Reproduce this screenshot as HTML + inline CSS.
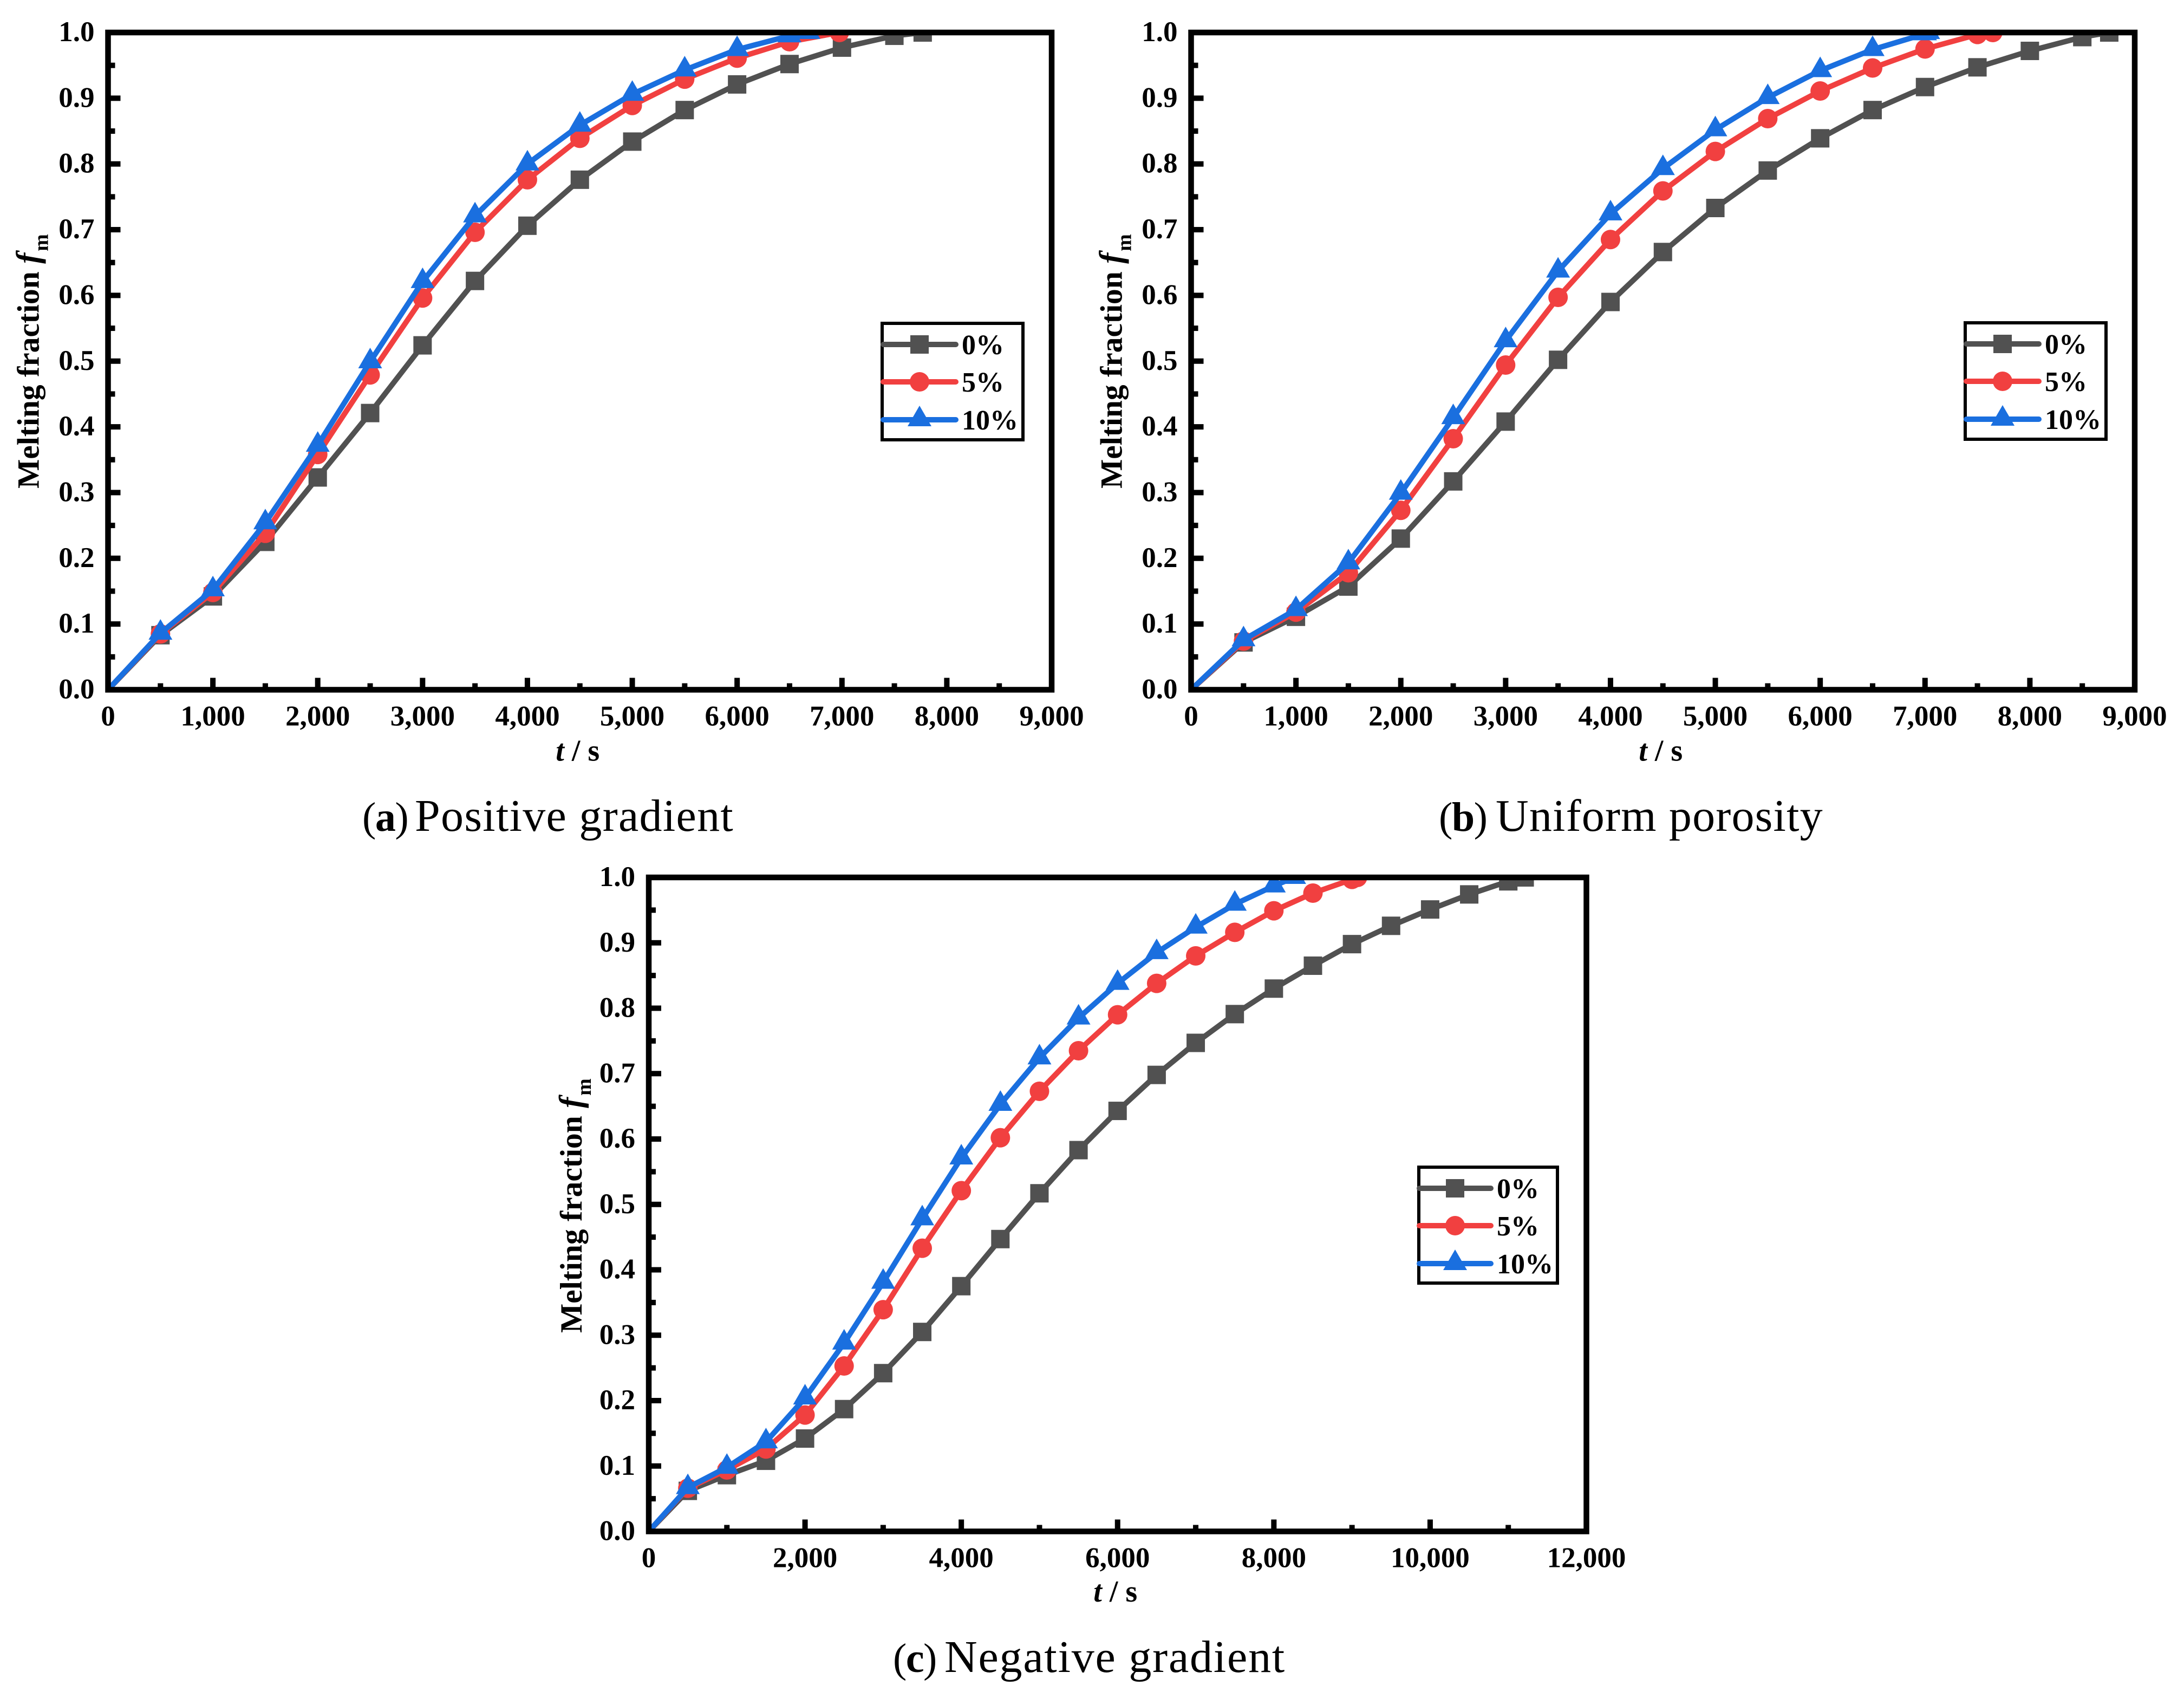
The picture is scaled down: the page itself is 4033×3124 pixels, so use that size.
<!DOCTYPE html>
<html lang="en">
<head>
<meta charset="utf-8">
<title>Melting fraction curves</title>
<style>
html,body{margin:0;padding:0;background:#fff;}
svg{display:block;font-family:"Liberation Serif","Times New Roman",serif;}
text{fill:#000;}
</style>
</head>
<body>
<svg id="figure" xmlns="http://www.w3.org/2000/svg" width="4033" height="3124" viewBox="0 0 4033 3124">
<rect x="0" y="0" width="4033" height="3124" fill="#fff"></rect>
</svg>
<script>
/* ---------- data: panel (a) positive gradient ---------- */
const posTime0  = [0,500,1000,1500,2000,2500,3000,3500,4000,4500,5000,5500,6000,6500,7000,7500,7770];
const posFrac0  = [0,.083,.142,.225,.323,.421,.524,.622,.706,.776,.834,.882,.921,.952,.977,.995,1];
const posTime5  = [0,500,1000,1500,2000,2500,3000,3500,4000,4500,5000,5500,6000,6500,6975];
const posFrac5  = [0,.085,.148,.238,.358,.479,.596,.696,.776,.839,.889,.929,.961,.986,1];
const posTime10 = [0,500,1000,1500,2000,2500,3000,3500,4000,4500,5000,5500,6000,6500,6680];
const posFrac10 = [0,.086,.152,.254,.372,.499,.621,.721,.8,.859,.906,.943,.974,.995,1];

/* ---------- data: panel (b) uniform porosity ---------- */
const uniTime0  = [0,500,1000,1500,2000,2500,3000,3500,4000,4500,5000,5500,6000,6500,7000,7500,8000,8500,8757];
const uniFrac0  = [0,.072,.111,.157,.23,.317,.408,.502,.59,.666,.733,.79,.839,.882,.917,.947,.972,.993,1];
const uniTime5  = [0,500,1000,1500,2000,2500,3000,3500,4000,4500,5000,5500,6000,6500,7000,7500,7646];
const uniFrac5  = [0,.074,.118,.178,.273,.382,.494,.597,.685,.759,.819,.869,.911,.946,.975,.997,1];
const uniTime10 = [0,500,1000,1500,2000,2500,3000,3500,4000,4500,5000,5500,6000,6500,7000,7030];
const uniFrac10 = [0,.076,.122,.193,.299,.414,.531,.637,.724,.793,.852,.901,.942,.974,.998,1];

/* ---------- data: panel (c) negative gradient ---------- */
const negTime0  = [0,500,1000,1500,2000,2500,3000,3500,4000,4500,5000,5500,6000,6500,7000,7500,8000,8500,9000,9500,10000,10500,11000,11210];
const negFrac0  = [0,.062,.086,.108,.142,.187,.242,.305,.375,.447,.517,.583,.643,.698,.747,.791,.83,.865,.898,.926,.951,.974,.994,1];
const negTime5  = [0,500,1000,1500,2000,2500,3000,3500,4000,4500,5000,5500,6000,6500,7000,7500,8000,8500,9000,9070];
const negFrac5  = [0,.066,.094,.126,.178,.253,.339,.433,.521,.602,.673,.735,.79,.838,.88,.916,.949,.976,.997,1];
const negTime10 = [0,500,1000,1500,2000,2500,3000,3500,4000,4500,5000,5500,6000,6500,7000,7500,8000,8260];
const negFrac10 = [0,.067,.098,.137,.204,.288,.381,.478,.571,.653,.724,.785,.838,.885,.924,.959,.987,1];

/* ---------- tick labels ---------- */
const yTickLabels = ["0.0","0.1","0.2","0.3","0.4","0.5","0.6","0.7","0.8","0.9","1.0"];
const xTicksWide  = ["0","1,000","2,000","3,000","4,000","5,000","6,000","7,000","8,000","9,000"];
const xTicksLong  = ["0","2,000","4,000","6,000","8,000","10,000","12,000"];
const seriesNames = ["0%","5%","10%"];
const seriesColors = ["#515151","#F14040","#1A6FDF"];

const svg = document.getElementById('figure');
const NS = 'http://www.w3.org/2000/svg';

function make(tag, attrs, parent, text){
  const el = document.createElementNS(NS, tag);
  for (const k in attrs) el.setAttribute(k, attrs[k]);
  if (text !== undefined) el.textContent = text;
  (parent || svg).appendChild(el);
  return el;
}

function drawMarker(parent, kind, cx, cy, color){
  let el;
  if (kind === 0){
    el = make('rect', {x:cx-17, y:cy-17, width:34, height:34, fill:color}, parent);
    
    
  } else if (kind === 1){
    el = make('circle', {cx:cx, cy:cy, r:18, fill:color}, parent);
    
    
  } else {
    el = make('path', {d:'M'+cx+' '+(cy-26)+'L'+(cx+22)+' '+(cy+12)+'L'+(cx-22)+' '+(cy+12)+'Z', fill:color}, parent);
    
    
  }
  return el;
}

function drawPanel(p){
  const g = make('g', {});
  
  

  const sx = function(v){ return p.x0 + (v / p.xMax) * (p.x1 - p.x0); };
  const sy = function(v){ return p.y0 + v * (p.y1 - p.y0); };

  /* series, clipped to the plot box */
  const clip = make('clipPath', {id:'clip-' + p.id}, g);
  make('rect', {x:p.x0, y:p.y1, width:p.x1-p.x0, height:p.y0-p.y1}, clip);
  const plot = make('g', {'clip-path':'url(#clip-' + p.id + ')'}, g);
  
  

  p.series.forEach(function(s, i){
    const sg = make('g', {}, plot);
    
    
    const pts = s.t.map(function(t, k){ return sx(t).toFixed(2) + ',' + sy(s.f[k]).toFixed(2); }).join(' ');
    const line = make('polyline', {points:pts, fill:'none', stroke:seriesColors[i], 'stroke-width':10, 'stroke-linejoin':'round', 'stroke-linecap':'round'}, sg);
    
    
    s.t.forEach(function(t, k){
      if (t === 0) return;
      drawMarker(sg, i, sx(t), sy(s.f[k]), seriesColors[i]);
    });
  });

  /* ticks */
  const xg = make('g', {}, g);
  
  
  const yg = make('g', {}, g);
  
  

  p.xLabels.forEach(function(lab, i){
    const v = i * p.xStep;
    const x = sx(v);
    if (i > 0 && i < p.xLabels.length - 1){
      const t = make('rect', {x:x-5, y:p.y0-22, width:10, height:22, fill:'#000'}, xg);
      
      
    }
    if (i < p.xLabels.length - 1){
      const m = make('rect', {x:sx(v + p.xStep/2)-5, y:p.y0-12, width:10, height:12, fill:'#000'}, xg);
      
      
    }
    const tx = make('text', {x:x, y:p.y0+66, 'text-anchor':'middle', 'font-size':53, 'font-weight':'bold'}, xg, lab);
    
    
  });

  yTickLabels.forEach(function(lab, i){
    const v = i / 10;
    const y = sy(v);
    if (i > 0 && i < 10){
      const t = make('rect', {x:p.x0, y:y-5, width:23, height:10, fill:'#000'}, yg);
      
      
    }
    if (i < 10){
      const m = make('rect', {x:p.x0, y:sy(v+.05)-5, width:13, height:10, fill:'#000'}, yg);
      
      
    }
    const ty = make('text', {x:p.x0-25, y:y+16, 'text-anchor':'end', 'font-size':53, 'font-weight':'bold'}, yg, lab);
    
    
  });

  /* frame */
  const frame = make('rect', {x:p.x0, y:p.y1, width:p.x1-p.x0, height:p.y0-p.y1, fill:'none', stroke:'#000', 'stroke-width':10.5}, g);
  
  

  /* axis titles */
  const xt = make('text', {x:(p.x0+p.x1)/2-4, y:p.y0+p.xTitleDy, 'text-anchor':'middle', 'font-size':56, 'font-weight':'bold', 'xml:space':'preserve'}, g);
  
  
  make('tspan', {'font-style':'italic'}, xt, 't');
  make('tspan', {}, xt, ' / s');

  const yt = make('text', {transform:'translate(' + p.yTitleX + ' ' + p.yTitleY + ') rotate(-90)', x:0, y:0, 'font-size':57.5, 'font-weight':'bold', 'xml:space':'preserve'}, g);
  
  
  make('tspan', {}, yt, 'Melting fraction ');
  make('tspan', {'font-style':'italic', 'font-size':60}, yt, 'f');
  make('tspan', {'font-size':38, dy:17, dx:3}, yt, 'm');

  /* legend */
  const lg = make('g', {}, g);
  
  
  const box = make('rect', {x:p.legX+3, y:p.legY+3, width:p.legW-6, height:p.legH-6, fill:'#fff', stroke:'#000', 'stroke-width':6}, lg);
  
  
  const rowOffsets = [42, 111, 181];
  seriesNames.forEach(function(name, i){
    const ly = p.legY + rowOffsets[i];
    const entry = make('g', {}, lg);
    
    
    const l = make('line', {x1:p.legX+p.legPad+5, x2:p.legX+p.legLineEnd-5, y1:ly, y2:ly, stroke:seriesColors[i], 'stroke-width':10, 'stroke-linecap':'round'}, entry);
    
    
    drawMarker(entry, i, p.legX+(p.legPad+p.legLineEnd)/2, ly, seriesColors[i]);
    const t = make('text', {x:p.legX+p.legText, y:ly+18, 'font-size':52, 'font-weight':'bold'}, entry, name);
    
    
  });

  /* caption: letter prefix and name are placed separately */
  const capGroup = make('g', {}, g);
  
  
  const prefix = make('text', {x:p.capX, y:p.capY, 'font-size':76, 'letter-spacing':-1.5, 'xml:space':'preserve'}, capGroup);
  
  
  make('tspan', {}, prefix, '(');
  make('tspan', {'font-weight':'bold'}, prefix, p.capLetter);
  make('tspan', {}, prefix, ')');
  const capName = make('text', {x:p.capNameX, y:p.capY, 'font-size':84, 'letter-spacing':p.capSpacing, 'xml:space':'preserve'}, capGroup, p.capText);
  
  
}

drawPanel({
  id:'positive-gradient', x0:199.5, x1:1942, y0:1273.5, y1:60, xMax:9000, xStep:1000, xLabels:xTicksWide,
  series:[{t:posTime0,f:posFrac0},{t:posTime5,f:posFrac5},{t:posTime10,f:posFrac10}],
  xTitleDy:131, yTitleX:71.5, yTitleY:902,
  legX:1626, legY:594, legW:266, legH:221, legPad:0, legLineEnd:144, legText:150,
  capX:669, capY:1534, capLetter:'a', capNameX:766, capSpacing:1.3, capText:'Positive gradient'
});
drawPanel({
  id:'uniform-porosity', x0:2199.5, x1:3942, y0:1273.5, y1:60, xMax:9000, xStep:1000, xLabels:xTicksWide,
  series:[{t:uniTime0,f:uniFrac0},{t:uniTime5,f:uniFrac5},{t:uniTime10,f:uniFrac10}],
  xTitleDy:131, yTitleX:2071.5, yTitleY:902,
  legX:3626, legY:593, legW:266, legH:221, legPad:0, legLineEnd:144, legText:150,
  capX:2657, capY:1534, capLetter:'b', capNameX:2762, capSpacing:1.2, capText:'Uniform porosity'
});
drawPanel({
  id:'negative-gradient', x0:1198, x1:2929.5, y0:2827.5, y1:1620, xMax:12000, xStep:2000, xLabels:xTicksLong,
  series:[{t:negTime0,f:negFrac0},{t:negTime5,f:negFrac5},{t:negTime10,f:negFrac10}],
  xTitleDy:129.5, yTitleX:1074, yTitleY:2461,
  legX:2617, legY:2152, legW:262, legH:220, legPad:-1, legLineEnd:141, legText:147,
  capX:1649, capY:3087, capLetter:'c', capNameX:1744, capSpacing:1.8, capText:'Negative gradient'
});
</script>
</body>
</html>
